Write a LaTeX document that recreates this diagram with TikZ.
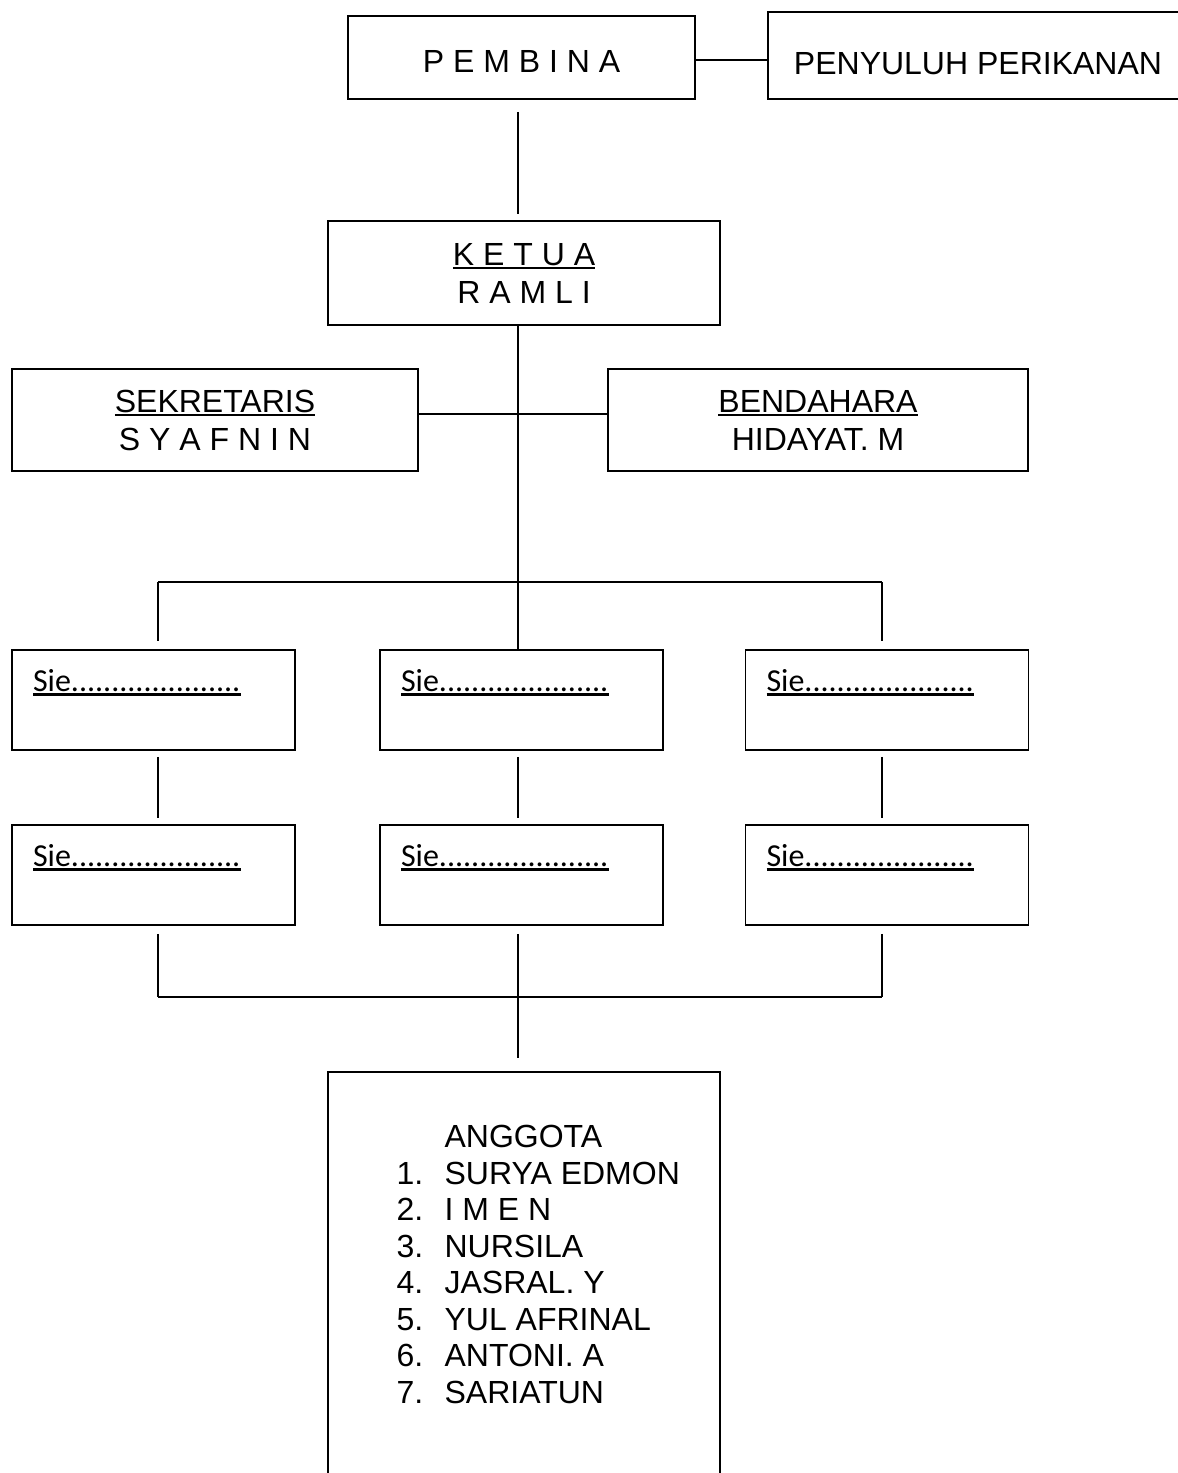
\documentclass[tikz,border=0pt]{standalone}
\usepackage{fontspec}
\setmainfont{Liberation Sans}
\newfontfamily\siefont{Carlito}
\usepackage{tikz}
\usetikzlibrary{positioning}
\newcommand{\undl}[2][1.1pt]{\setbox0\hbox{#2}\rlap{\rule[-\dimexpr1.1pt+#1\relax]{\wd0}{#1}}\box0}
\tikzset{box/.style={draw,rectangle,line width=0.8pt,inner sep=0pt,align=center,font=\fontsize{16}{19}\selectfont}}
\tikzset{siebox/.style={box,minimum width=141.5pt,text width=120.5pt,inner xsep=10.5pt,align=left,text height=20.5pt,text depth=29.5pt,font=\fontsize{16}{19}\siefont}}
\tikzset{link/.style={line width=0.8pt}}

\begin{document}
\begin{tikzpicture}[x=0.5pt,y=-0.5pt]
            \useasboundingbox (0,0) rectangle (1178,1473);
            \node[box,minimum width=173.5pt,text height=28.25pt,text depth=13.25pt] (pembina) at (521.5,57.5) {P E M B I N A};
            \node[box,minimum width=210pt,text height=31.25pt,text depth=12.25pt] (penyuluh) at (978,55.5) {PENYULUH PERIKANAN};
            \node[box,minimum width=196pt,minimum height=52pt] (ketua) at (524,273) {\undl{K E T U A}\\R A M L I};
            \node[box,minimum width=203pt,minimum height=51pt] (sekretaris) at (215,420) {\undl{SEKRETARIS}\\S Y A F N I N};
            \node[box,minimum width=210pt,minimum height=51pt] (bendahara) at (818,420) {\undl{BENDAHARA}\\HIDAYAT. M};
            \foreach \c/\x in {1/153.5,2/521.5,3/887}{
              \node[siebox] (sieA\c) at (\x,700) {\undl[1.5pt]{Sie.....................}};
              \node[siebox] (sieB\c) at (\x,875) {\undl[1.5pt]{Sie.....................}};
            }
            \node[box,anchor=north,minimum width=196pt,minimum height=210pt] (anggota) at (524,1071) {};
            \node[anchor=north west,align=left,inner sep=0pt,font=\fontsize{16}{18.25}\selectfont] (members)
              at ([xshift=34.5pt,yshift=-27pt]anggota.north west)
              {\hspace*{24pt}ANGGOTA\\\makebox[24pt][l]{1.}SURYA EDMON\\\makebox[24pt][l]{2.}I M E N\\
               \makebox[24pt][l]{3.}NURSILA\\\makebox[24pt][l]{4.}JASRAL. Y\\\makebox[24pt][l]{5.}YUL AFRINAL\\
               \makebox[24pt][l]{6.}ANTONI. A\\\makebox[24pt][l]{7.}SARIATUN};
            % branch points
            \coordinate (brL) at (158,582);
            \coordinate (brM) at (518,582);
            \coordinate (brR) at (882,582);
            \coordinate (jnL) at (158,997);
            \coordinate (jnR) at (882,997);
            \coordinate (jnB) at (518,1058);
            \draw[link] ([yshift=-1.25pt]pembina.east) -- ([yshift=-1.25pt]pembina.east -| penyuluh.west);
            \draw[link] ([yshift=-6pt]pembina.south -| brM) -- ([yshift=3pt]ketua.north -| brM);
            \draw[link] (ketua.south -| brM) -- (brM);
            \draw[link] ([yshift=3pt]sekretaris.east) -- ([yshift=3pt]bendahara.west);
            \draw[link] (brL) -- (brR);
            \draw[link] (brL) -- ([yshift=4pt]sieA1.north -| brL);
            \draw[link] (brM) -- (sieA2.north -| brM);
            \draw[link] (brR) -- ([yshift=4pt]sieA3.north -| brR);
            \draw[link] ([yshift=-3pt]sieA1.south -| brL) -- ([yshift=3pt]sieB1.north -| brL);
            \draw[link] ([yshift=-3pt]sieA2.south -| brM) -- ([yshift=3pt]sieB2.north -| brM);
            \draw[link] ([yshift=-3pt]sieA3.south -| brR) -- ([yshift=3pt]sieB3.north -| brR);
            \draw[link] ([yshift=-4pt]sieB1.south -| jnL) -- (jnL);
            \draw[link] ([yshift=-4pt]sieB2.south -| jnB) -- (jnB);
            \draw[link] ([yshift=-4pt]sieB3.south -| jnR) -- (jnR);
            \draw[link] (jnL) -- (jnR);
\end{tikzpicture}
\end{document}
